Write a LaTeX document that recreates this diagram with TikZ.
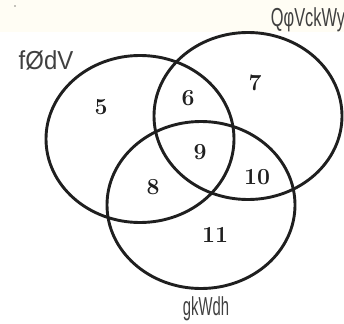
\documentclass[tikz,border=0pt]{standalone}
\usepackage{fontspec}
\usepackage{tikz}
\usetikzlibrary{shapes.geometric}
\newfontfamily\labelfont{Liberation Sans}
\definecolor{cream}{RGB}{255,253,244}

\begin{document}
\begin{tikzpicture}[x=1pt, y=-1pt,
    setring/.style={ellipse, draw=black!88, line width=2.9pt, minimum width=188pt, minimum height=167pt, inner sep=0pt},
    num/.style={inner sep=0pt, text=black!88, font=\fontsize{23}{23}\selectfont\bfseries},
    setname/.style={inner sep=0pt, text=black!75, font=\labelfont\fontsize{26}{26}\selectfont}]
    \useasboundingbox (0,0) rectangle (344,323);
    \fill[cream] (0,0) rectangle (344,32);
    \fill[black] (15,6) circle (0.6pt);
    % the three sets
    \node[setring] (fodv) at (140,139) {};
    \node[setring] (qvck) at (248,116) {};
    \node[setring] (gkwd) at (201,205) {};
    % region counts
    \foreach \n/\x/\y in {5/101/107, 6/188/98, 7/255/83, 8/153/187, 9/200/152, 10/257/177, 11/215/235} {
        \node[num] (r\n) at (\x,\y) {\n};
    }
    % set names
    \node[setname, xscale=0.92] (nfodv) at (46,60) {fØdV};
    \node[setname, xscale=0.63] (nqvck) at (308,20) {QφVckWy};
    \node[setname, xscale=0.57] (ngkwd) at (206,309) {gkWdh};
\end{tikzpicture}
\end{document}
